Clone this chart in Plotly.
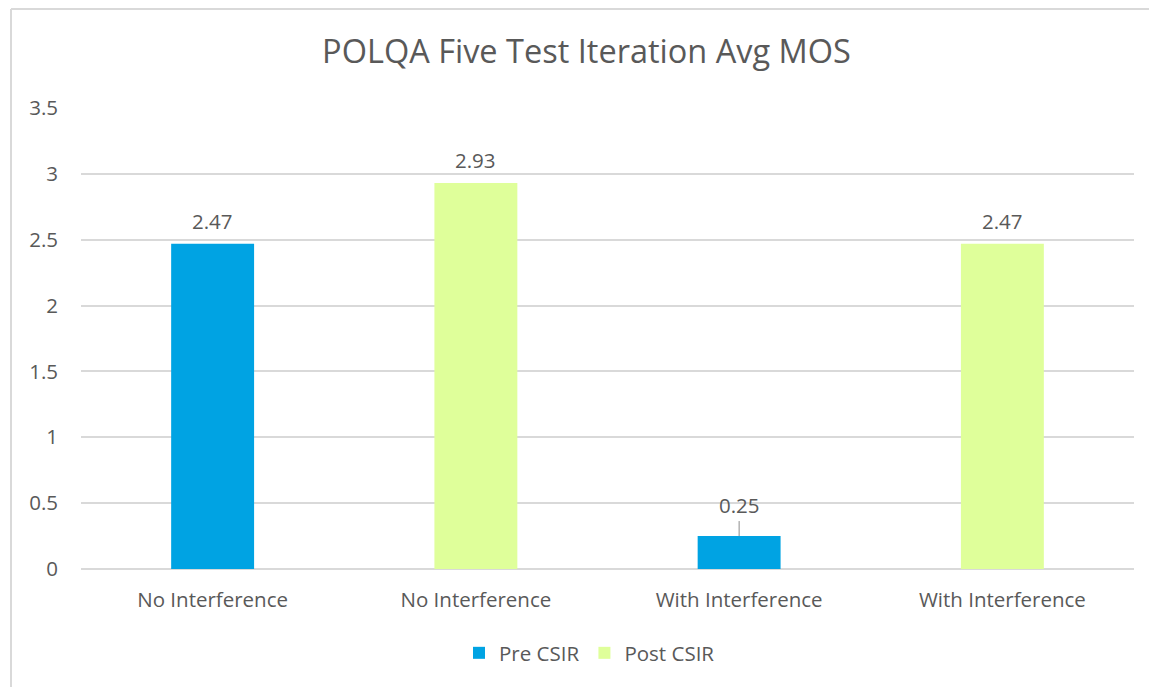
import plotly.graph_objects as go

categories = ["No Interference", "No Interference", "With Interference", "With Interference"]
series_names = ["Pre CSIR", "Post CSIR"]
pre_positions = [0, 2]
pre_values = [2.47, 0.25]
post_positions = [1, 3]
post_values = [2.93, 2.47]
y_ticks = [0, 0.5, 1, 1.5, 2, 2.5, 3, 3.5]
y_tick_labels = ["0", "0.5", "1", "1.5", "2", "2.5", "3", "3.5"]

BLUE = "#00A3E3"
GREEN = "#DFFF9A"
TXT = "#595959"
FONT = "Open Sans"
FS = 20.5

fig = go.Figure()
fig.add_trace(go.Bar(x=pre_positions, y=pre_values, name=series_names[0],
                     marker=dict(color=BLUE, line=dict(width=0)), width=0.315))
fig.add_trace(go.Bar(x=post_positions, y=post_values, name=series_names[1],
                     marker=dict(color=GREEN, line=dict(width=0)), width=0.315))

annotations = []
for xs, ys in [(pre_positions, pre_values), (post_positions, post_values)]:
    for x, y in zip(xs, ys):
        if y < 0.5:
            annotations.append(dict(x=x, y=y, xref="x", yref="y", text=f"{y:.2f}",
                                    showarrow=True, arrowhead=0, arrowwidth=1, arrowcolor="#8C8C8C",
                                    ax=0, ay=-15, yanchor="bottom",
                                    font=dict(family=FONT, size=FS, color=TXT)))
        else:
            annotations.append(dict(x=x, y=y, xref="x", yref="y", text=f"{y:.2f}",
                                    showarrow=False, yanchor="middle", yshift=23,
                                    font=dict(family=FONT, size=FS, color=TXT)))

fig.update_layout(
    width=1149, height=687,
    margin=dict(l=81, r=15, t=108, b=118),
    paper_bgcolor="white", plot_bgcolor="white",
    title=dict(text="POLQA Five Test Iteration Avg MOS", x=586.5 / 1149, xanchor="center",
               y=1 - 52 / 687, yanchor="middle",
               font=dict(family=FONT, size=32.5, color=TXT)),
    font=dict(family=FONT, color=TXT, size=FS),
    xaxis=dict(range=[-0.5, 3.5], tickvals=[0, 1, 2, 3], ticktext=categories,
               showgrid=False, zeroline=False, showline=False, ticks="",
               ticklabelstandoff=16,
               tickfont=dict(family=FONT, size=FS, color=TXT), fixedrange=True),
    yaxis=dict(range=[0, 3.5], tickvals=y_ticks, ticktext=y_tick_labels,
               showgrid=True, gridcolor="#D9D9D9", gridwidth=1.5, zeroline=True,
               zerolinecolor="#D9D9D9", zerolinewidth=1.5, showline=False, ticks="",
               ticklabelstandoff=22,
               tickfont=dict(family=FONT, size=FS, color=TXT), fixedrange=True),
    legend=dict(orientation="h", x=0.5 - 18 / 1053, xanchor="center", y=-(653 - 569) / 461,
                yanchor="middle", font=dict(family=FONT, size=FS, color=TXT), itemwidth=30),
    barmode="overlay",
    annotations=annotations,
    showlegend=True,
    shapes=[
        dict(type="line", xref="paper", yref="paper", x0=(11 - 81) / 1053, x1=(1149 - 81) / 1053,
             y0=1 + (108 - 9) / 461, y1=1 + (108 - 9) / 461, line=dict(color="#D9D9D9", width=2)),
        dict(type="line", xref="paper", yref="paper", x0=(11 - 81) / 1053, x1=(11 - 81) / 1053,
             y0=1 + (108 - 9) / 461, y1=-(690 - 569) / 461, line=dict(color="#D9D9D9", width=2)),
    ],
)

fig.write_html("out.html", config={"displayModeBar": False},
               post_script="document.body.style.margin='0px';")
